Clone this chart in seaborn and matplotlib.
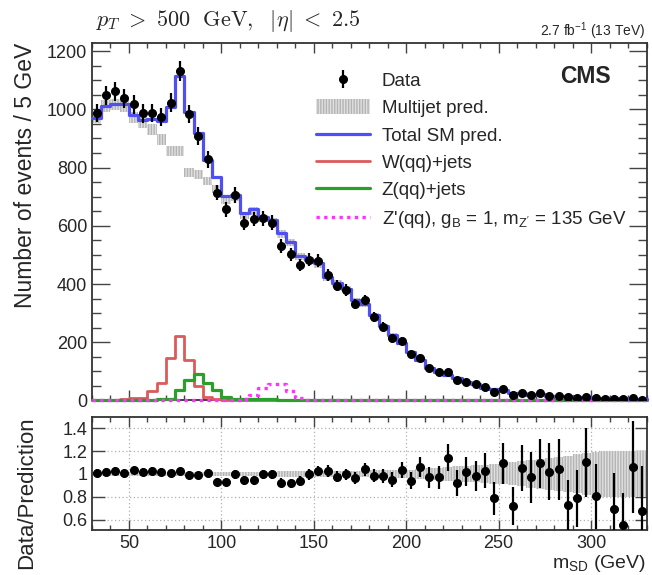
import numpy as np
import pandas as pd
import seaborn as sns
import matplotlib
matplotlib.use("Agg")
import matplotlib.pyplot as plt
from matplotlib.lines import Line2D
from matplotlib.patches import Patch
from matplotlib.ticker import MultipleLocator, FuncFormatter

# ---------------- data ----------------
bin_low, bin_width, n_bins = 30, 5, 60

data_counts = [988, 1048, 1063, 1038, 1017, 986, 988, 974, 1023, 1131,
               985, 908, 829, 714, 657, 706, 609, 624, 626, 611,
               531, 502, 466, 483, 480, 431, 395, 380, 331, 345,
               288, 253, 214, 205, 158, 147, 111, 97, 99, 70,
               62, 57, 45, 30, 38, 19, 27, 19, 25, 17,
               15, 11, 10, 13, 8, 4, 5, 4, 7, 3]

multijet = [971, 1011, 1017, 1011, 971, 954, 931, 897, 857, 857,
            783, 777, 754, 727, 688, 698, 636, 651, 626, 615,
            571, 542, 494, 480, 468, 422, 402, 382, 342, 330,
            291, 255, 223, 196, 164, 138, 111, 98, 86, 75,
            61, 57, 43, 37, 34, 26, 25, 19.5, 22.5, 16.5,
            13.5, 14.5, 12, 11.5, 9.7, 8.7, 6.8, 6.8, 6.3, 4.3]

wjets = [0, 0, 2, 4, 8, 8, 34, 59, 145, 222,
         139, 50, 13, 5, 3, 2, 2, 2, 1.5, 1.5,
         1, 1, 1, 1, 1, 1, 1, 1, 1, 0.8,
         0.8, 0.8, 0.8, 0.6, 0.6, 0.6, 0.5, 0.5, 0.5, 0.4,
         0.4, 0.4, 0.3, 0.3, 0.3, 0.3, 0.2, 0.2, 0.2, 0.2,
         0.2, 0.1, 0.1, 0.1, 0.1, 0.1, 0.1, 0.1, 0.1, 0.1]

zjets = [1, 1, 1, 2, 2, 3, 3, 5, 5, 36,
         70, 91, 60, 36, 12, 6, 5, 4, 4, 3.5,
         3, 3, 2.5, 2.5, 2, 2, 2, 1.5, 1.5, 1.5,
         1, 1, 1, 1, 1, 0.8, 0.8, 0.8, 0.6, 0.6,
         0.6, 0.5, 0.5, 0.5, 0.4, 0.4, 0.4, 0.3, 0.3, 0.3,
         0.3, 0.2, 0.2, 0.2, 0.2, 0.2, 0.1, 0.1, 0.1, 0.1]

zprime = [0.5, 0.5, 0.5, 0.5, 0.5, 0.5, 0.5, 0.5, 0.5, 0.5,
          0.5, 0.5, 0.5, 0.5, 1, 2, 4, 20, 42, 57,
          57, 33, 8, 2, 1, 0.5, 0.5, 0.5, 0.5, 0.5,
          0.5, 0.5, 0.5, 0.5, 0.5, 0.5, 0.5, 0.5, 0.5, 0.5,
          0.5, 0.5, 0.5, 0.5, 0.5, 0.5, 0.5, 0.5, 0.5, 0.5,
          0.5, 0.5, 0.5, 0.5, 0.5, 0.5, 0.5, 0.5, 0.5, 0.5]

ratio = [1.01, 1.016, 1.025, 1.004, 1.03, 1.016, 1.025, 1.019, 1.004, 1.025,
         0.993, 0.987, 1.01, 0.929, 0.929, 0.996, 0.943, 0.943, 0.996, 0.996,
         0.923, 0.917, 0.937, 0.996, 1.025, 1.025, 0.975, 0.996, 0.967, 1.04,
         0.985, 0.983, 0.95, 1.034, 0.94, 1.063, 0.971, 0.971, 1.143, 0.92,
         1.02, 0.983, 1.026, 0.789, 1.091, 0.72, 1.049, 0.969, 1.091, 1.02,
         1.04, 0.726, 0.786, 1.1, 0.806, 0.3, 0.697, 0.554, 1.063, 0.677]

mj_rel_unc = [0.02] * 20 + [0.024] * 5 + [0.028] * 5 + [0.035] * 5 + \
             [0.045, 0.05, 0.055, 0.06, 0.065, 0.07, 0.075, 0.08, 0.085, 0.09,
              0.1, 0.11, 0.12, 0.13, 0.14, 0.15, 0.16, 0.17, 0.18, 0.19,
              0.2, 0.2, 0.2, 0.2, 0.2]

# ---------------- derived arrays ----------------
edges = bin_low + bin_width * np.arange(n_bins + 1)
centers = edges[:-1] + bin_width / 2
data_counts = np.array(data_counts, float)
multijet = np.array(multijet, float)
wjets = np.array(wjets, float)
zjets = np.array(zjets, float)
zprime = np.array(zprime, float)
ratio = np.array(ratio, float)
mj_rel_unc = np.array(mj_rel_unc, float)
total = multijet + wjets + zjets

df = pd.DataFrame({"mass": centers, "total": total, "w": wjets,
                   "z": zjets, "zp": zprime})
x_range = (float(edges[0]), float(edges[-1]))

# ---------------- style ----------------
sns.set_theme(style="ticks")
plt.rcParams["font.family"] = ["Liberation Sans", "DejaVu Sans"]
plt.rcParams["mathtext.fontset"] = "custom"
plt.rcParams["mathtext.rm"] = "Liberation Sans"
plt.rcParams["mathtext.it"] = "Liberation Sans:italic"
plt.rcParams["mathtext.bf"] = "Liberation Sans:bold"
plt.rcParams["hatch.linewidth"] = 1.0

c_blue = "#5050f0"
c_red = "#dc5a5a"
c_green = "#2aa02a"
c_mag = "#ff33ff"
c_band = "#e0e0e0"
c_hatch = "#b4b4b4"
hatch = "|" * 6

fig = plt.figure(figsize=(6.52, 5.75), dpi=100)
ax = fig.add_axes([0.1411, 0.3035, 0.8505, 0.6217])
rax = fig.add_axes([0.1411, 0.0783, 0.8505, 0.197])

# ---------------- main panel ----------------
ax.bar(centers, 2 * multijet * mj_rel_unc, bottom=multijet * (1 - mj_rel_unc),
       width=bin_width, color=c_band, edgecolor=c_hatch, hatch=hatch,
       linewidth=0, zorder=1)

hist_specs = [("w", c_red, 2.0, "-", 4),
              ("z", c_green, 2.3, "-", 4.1),
              ("zp", c_mag, 2.4, (0, (1, 1.3)), 4.2),
              ("total", c_blue, 2.3, "-", 4.5)]
for col, colr, lw, ls, zo in hist_specs:
    sns.histplot(data=df, x="mass", weights=col, binwidth=bin_width,
                 binrange=x_range, element="step", fill=False, color=colr,
                 linewidth=lw, linestyle=ls, ax=ax, zorder=zo, clip_on=False)

data_eb = ax.errorbar(centers, data_counts, yerr=np.sqrt(data_counts), fmt="o",
                      color="black", ms=5.5, elinewidth=1.6, capsize=0, zorder=5)

ax.set_xlim(30, 330)
ax.set_ylim(0, 1228)
ax.set_xlabel("")
ax.set_ylabel("Number of events / 5 GeV", fontsize=16.5, loc="top")
ax.yaxis.set_label_coords(-0.099, 1.0)
ax.xaxis.set_major_locator(MultipleLocator(50))
ax.xaxis.set_minor_locator(MultipleLocator(10))
ax.yaxis.set_major_locator(MultipleLocator(200))
ax.yaxis.set_minor_locator(MultipleLocator(50))
ax.tick_params(which="both", direction="in", top=True, right=True,
               labelbottom=False, labelsize=13, width=1.0, color="#444444")
ax.tick_params(axis="y", which="major", length=13)
ax.tick_params(axis="y", which="minor", length=6.5)
ax.tick_params(axis="x", which="major", length=7)
ax.tick_params(axis="x", which="minor", length=3.5)
for s in ax.spines.values():
    s.set_linewidth(1.3)
    s.set_color("#333333")

ax.text(0.935, 0.905, "CMS", transform=ax.transAxes, ha="right", va="center",
        fontsize=16.5, fontweight="bold")

handles = [data_eb,
           Patch(facecolor=c_band, edgecolor=c_hatch, hatch=hatch, linewidth=0),
           Line2D([], [], color=c_blue, lw=2.3),
           Line2D([], [], color=c_red, lw=2.0),
           Line2D([], [], color=c_green, lw=2.3),
           Line2D([], [], color=c_mag, lw=2.4, linestyle=(0, (1, 1.3)))]
labels = ["Data", "Multijet pred.", "Total SM pred.", "W(qq)+jets",
          "Z(qq)+jets", r"Z'(qq), g$_{\mathrm{B}}$ = 1, m$_{\mathrm{Z'}}$ = 135 GeV"]
fig.legend(handles, labels, loc="upper left",
           bbox_to_anchor=(316 / 652, 1 - 72 / 575), frameon=False,
           fontsize=13.5, handlelength=2.9, handleheight=0.85,
           handletextpad=0.6, labelspacing=0.5,
           borderpad=0, borderaxespad=0)

# ---------------- ratio panel ----------------
rax.bar(centers, 2 * mj_rel_unc, bottom=1 - mj_rel_unc, width=bin_width,
        color=c_band, edgecolor=c_hatch, hatch=hatch, linewidth=0, zorder=1)
rax.errorbar(centers, ratio, yerr=ratio / np.sqrt(data_counts), fmt="o",
             color="black", ms=5.5, elinewidth=1.6, capsize=0, zorder=5)
rax.set_xlim(30, 330)
rax.set_ylim(0.51, 1.5)
rax.yaxis.set_major_locator(MultipleLocator(0.2))
rax.yaxis.set_major_formatter(FuncFormatter(lambda v, p: f"{v:g}"))
rax.xaxis.set_major_locator(MultipleLocator(50))
rax.xaxis.set_minor_locator(MultipleLocator(10))
rax.grid(True, which="major", color="#b0b0b0", linestyle=(0, (1, 2)),
         linewidth=0.9)
rax.set_axisbelow(True)
rax.tick_params(which="both", direction="in", top=True, right=True,
                labelsize=13, width=1.0, color="#444444")
rax.tick_params(axis="y", which="major", length=9)
rax.tick_params(axis="x", which="major", length=7)
rax.tick_params(axis="x", which="minor", length=3.5)
for s in rax.spines.values():
    s.set_linewidth(1.3)
    s.set_color("#333333")
rax.set_ylabel("Data/Prediction", fontsize=16, loc="top")
rax.yaxis.set_label_coords(-0.099, 1.0)
rax.set_xlabel(r"m$_{\mathrm{SD}}$ (GeV)", fontsize=14, loc="right")
rax.xaxis.set_label_coords(1.0, -0.2)

# ---------------- header texts ----------------
fig.text(96 / 652, 1 - 21 / 575,
         r"$p_T\ >\ 500\ \ \mathrm{GeV},\ \ |\eta|\ <\ 2.5$",
         math_fontfamily="cm", fontsize=16, va="center", ha="left")
fig.text(645 / 652, 1 - 31 / 575, r"2.7 fb$^{-1}$ (13 TeV)", fontsize=10,
         ha="right", va="center")

fig.savefig("out.png", dpi=100, facecolor="white")
